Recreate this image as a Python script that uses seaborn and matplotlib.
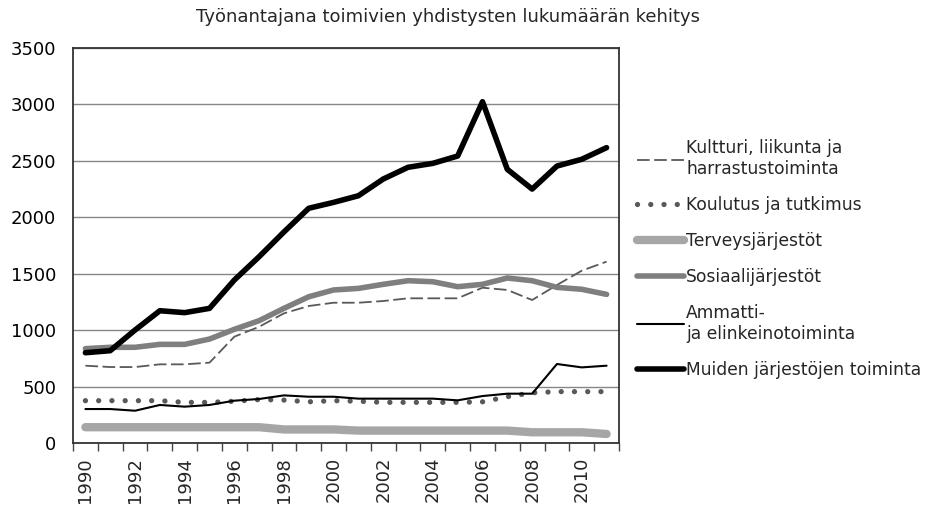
import numpy as np
import pandas as pd
import seaborn as sns
import matplotlib.pyplot as plt
from matplotlib.ticker import FixedLocator

sns.set_style('white')
plt.rcParams['font.family'] = ['DejaVu Sans']

years = list(range(1990, 2012))

kulttuuri = [685, 673, 673, 697, 697, 712, 942, 1030, 1149, 1214, 1243, 1243,
             1258, 1282, 1282, 1282, 1376, 1356, 1267, 1400, 1527, 1607]
koulutus = [375, 375, 375, 375, 360, 360, 370, 385, 380, 365, 375, 370,
            360, 360, 360, 360, 365, 410, 445, 455, 455, 455]
terveys = [140, 140, 140, 140, 140, 140, 140, 140, 120, 120, 120, 110,
           110, 110, 110, 110, 110, 110, 95, 95, 95, 80]
sosiaali = [836, 848, 848, 874, 874, 921, 1007, 1084, 1193, 1296, 1356, 1370,
            1406, 1438, 1429, 1385, 1406, 1462, 1438, 1379, 1362, 1317]
ammatti = [301, 301, 286, 337, 322, 337, 375, 390, 422, 410, 410, 393,
           393, 393, 393, 378, 416, 437, 437, 700, 670, 685]
muiden = [800, 818, 1001, 1172, 1155, 1193, 1444, 1651, 1870, 2080, 2132, 2191,
          2339, 2443, 2478, 2543, 3024, 2425, 2250, 2454, 2514, 2617]

labels = ['Kultturi, liikunta ja\nharrastustoiminta', 'Koulutus ja tutkimus',
          'Terveysjärjestöt', 'Sosiaalijärjestöt',
          'Ammatti-\nja elinkeinotoiminta', 'Muiden järjestöjen toiminta']
series = [kulttuuri, koulutus, terveys, sosiaali, ammatti, muiden]

styles = [
    dict(color='#595959', lw=1.3, ls=(0, (7, 2.5))),
    dict(color='#595959', lw=3.8, ls=(0, (0.01, 2.5)), dash_capstyle='round'),
    dict(color='#A6A6A6', lw=6, solid_capstyle='round'),
    dict(color='#7F7F7F', lw=4, solid_capstyle='round'),
    dict(color='black', lw=1.5),
    dict(color='black', lw=4, solid_capstyle='round'),
]

x = np.arange(len(years))

fig = plt.figure(figsize=(9.32, 5.09), dpi=100)
ax = fig.add_axes([73 / 932, 1 - 443 / 509, 546 / 932, 395 / 509])

for s, lab, st in zip(series, labels, styles):
    df = pd.DataFrame({'x': x, 'y': s})
    sns.lineplot(data=df, x='x', y='y', ax=ax, label=lab, **st)

ax.set_xlim(-0.5, len(years) - 0.5)
ax.set_ylim(0, 3500)
ax.set_yticks(np.arange(0, 3501, 500))
ax.yaxis.grid(True, color='#868686', lw=1)
ax.set_axisbelow(True)
ax.tick_params(axis='y', length=0, pad=12, labelsize=13, colors='black')

ax.xaxis.set_major_locator(FixedLocator(np.arange(-0.5, len(years), 1)))
ax.set_xticklabels([])
ax.xaxis.set_minor_locator(FixedLocator(x[::2]))
ax.set_xticklabels([str(y) for y in years[::2]], minor=True, rotation=90)
ax.tick_params(axis='x', which='major', direction='out', length=6, width=1, color='#444444', bottom=True)
ax.tick_params(axis='x', which='minor', length=0, pad=10, labelsize=13)
ax.set_xlabel('')
ax.set_ylabel('')
for sp in ax.spines.values():
    sp.set_color('#333333')
    sp.set_linewidth(1.3)

ax.get_legend().remove()
handles, labs = ax.get_legend_handles_labels()
fig.legend(handles, labs, loc='center left', bbox_to_anchor=(622 / 932, 1 - 259 / 509),
           frameon=False, fontsize=12.3, handlelength=2.75, handletextpad=0.1, labelspacing=1.05)

fig.suptitle('Työnantajana toimivien yhdistysten lukumäärän kehitys', x=448 / 932, y=1 - 8 / 509,
             va='top', fontsize=13)

fig.savefig('out.png', dpi=100)
